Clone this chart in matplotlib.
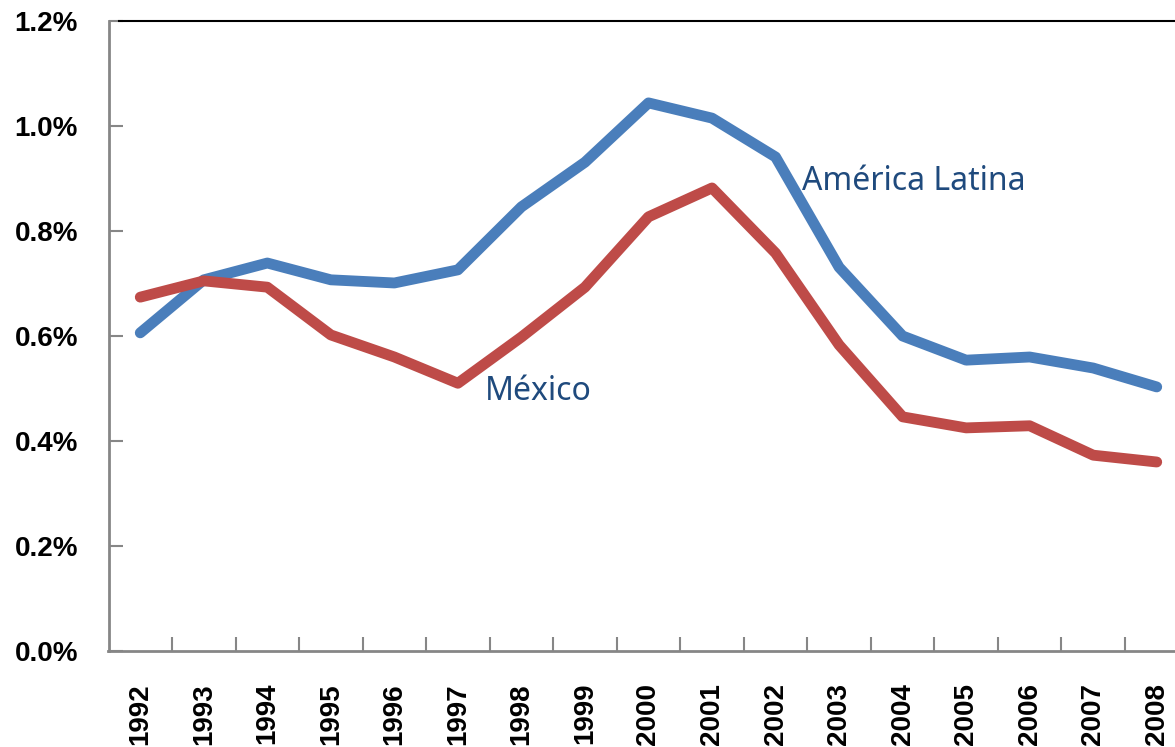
import matplotlib
matplotlib.use("Agg")
import matplotlib.pyplot as plt

years = [str(y) for y in range(1992, 2009)]
america_latina = [0.606, 0.707, 0.739, 0.707, 0.701, 0.726, 0.846, 0.931, 1.044,
                  1.015, 0.941, 0.731, 0.600, 0.554, 0.560, 0.539, 0.503]
mexico = [0.674, 0.705, 0.693, 0.602, 0.560, 0.510, 0.598, 0.693, 0.827,
          0.882, 0.758, 0.583, 0.446, 0.425, 0.429, 0.373, 0.360]

blue = '#4a7ebb'
red = '#be4b48'
label_col = '#1f4a7d'
grey = '#868686'
tick_font = dict(family='Liberation Sans', fontweight='bold', fontsize=20)

fig = plt.figure(figsize=(11.75, 7.47), dpi=100)
ax = fig.add_axes([108.5/1175, 96/747, 1080/1175, 630/747])

x = list(range(len(years)))
ax.plot(x, america_latina, color=blue, lw=7.8, solid_capstyle='round')
ax.plot(x, mexico, color=red, lw=7.8, solid_capstyle='round')

ax.set_xlim(-0.5, len(years) - 0.5)
ax.set_ylim(0, 1.2)

# Excel style: ticks between categories, labels centred on categories
ax.set_xticks([i + 0.5 for i in range(len(years) - 1)])
ax.set_xticklabels([])
ax.set_xticks(x, minor=True)
ax.set_xticklabels(years, minor=True, rotation=90, **tick_font)
ax.tick_params(axis='x', which='major', direction='in', length=10,
               width=1.5, color=grey)
ax.tick_params(axis='x', which='minor', length=0, pad=23)

yticks = [0, 0.2, 0.4, 0.6, 0.8, 1.0, 1.2]
ax.set_yticks(yticks)
ax.set_yticklabels([f'{v:.1f}%' for v in yticks], **tick_font)
ax.tick_params(axis='y', direction='in', length=10, width=1.5, color=grey, pad=22)

for s in ['top', 'right']:
    ax.spines[s].set_visible(False)
for s in ['left', 'bottom']:
    ax.spines[s].set_color(grey)
    ax.spines[s].set_linewidth(2)

ax.axhline(1.2, xmin=10/1080, xmax=1, color='black', lw=1.5, clip_on=False)

ax.text(10.42, 0.895, 'América Latina', color=label_col, fontsize=23,
        family='Noto Sans', va='center', ha='left')
ax.text(5.42, 0.494, 'México', color=label_col, fontsize=23,
        family='Noto Sans', va='center', ha='left')

fig.savefig('out.png', dpi=100)
